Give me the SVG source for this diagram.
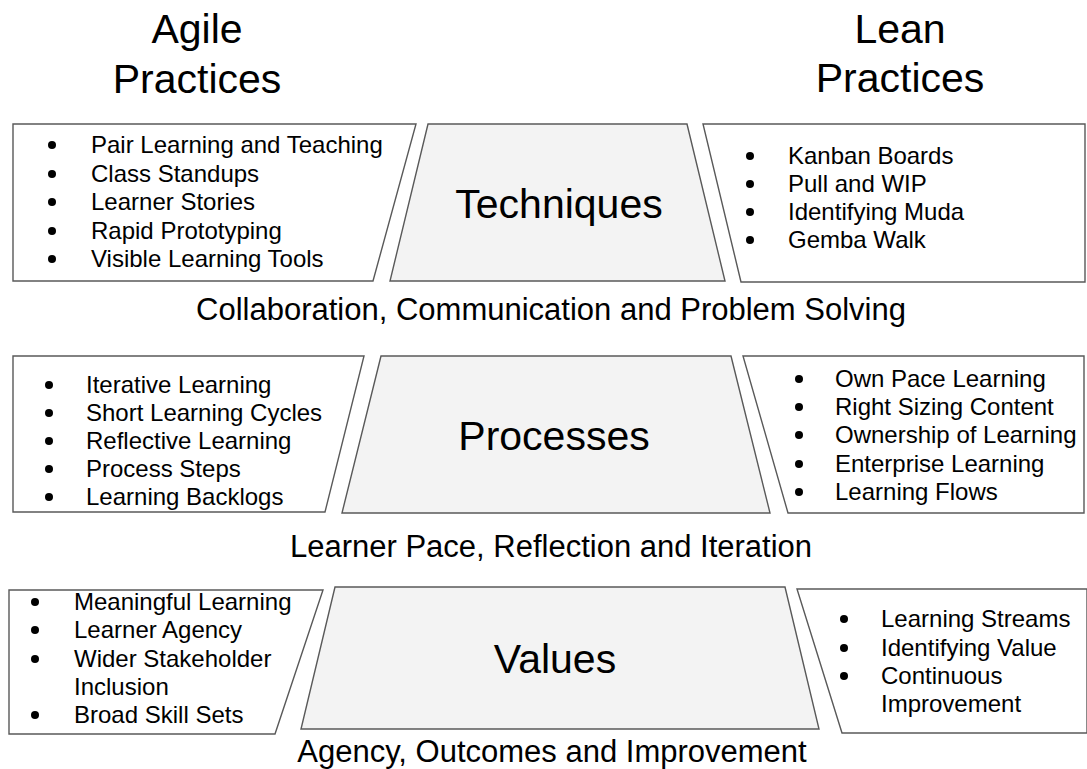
<svg xmlns="http://www.w3.org/2000/svg" width="1087" height="769" viewBox="0 0 1087 769">
<style>
text{font-family:"Liberation Sans",Arial,sans-serif;fill:#000}
.box{fill:#fff;stroke:#595959;stroke-width:1.4}
.core{fill:#f3f3f3;stroke:#595959;stroke-width:1.4}
.hdr{font-size:41px;text-anchor:middle}
.core-t{font-size:41px;text-anchor:middle}
.band{font-size:31px;text-anchor:middle}
.item{font-size:24px}
.dot{fill:#000}
</style>
<rect width="1087" height="769" fill="#fff"/>

<g id="agile-header">
<text class="hdr" x="197" y="43">Agile</text>
<text class="hdr" x="197" y="93">Practices</text>
</g>
<g id="lean-header">
<text class="hdr" x="900" y="43">Lean</text>
<text class="hdr" x="900" y="92">Practices</text>
</g>

<!-- Row 1 -->
<g id="agile-techniques">
<polygon class="box" points="13,124 416,124 373,281 13,281"/>
<circle class="dot" cx="52" cy="145" r="4"/><text class="item" x="91" y="153">Pair Learning and Teaching</text>
<circle class="dot" cx="52" cy="174" r="4"/><text class="item" x="91" y="182">Class Standups</text>
<circle class="dot" cx="52" cy="202" r="4"/><text class="item" x="91" y="210">Learner Stories</text>
<circle class="dot" cx="52" cy="231" r="4"/><text class="item" x="91" y="239">Rapid Prototyping</text>
<circle class="dot" cx="52" cy="259" r="4"/><text class="item" x="91" y="267">Visible Learning Tools</text>
</g>
<g id="techniques">
<polygon class="core" points="428,124 687,124 725,281 390,281"/>
<text class="core-t" x="559" y="218">Techniques</text>
</g>
<g id="lean-techniques">
<polygon class="box" points="703,124 1085,124 1085,282 741,282"/>
<circle class="dot" cx="750" cy="156" r="4"/><text class="item" x="788" y="164">Kanban Boards</text>
<circle class="dot" cx="750" cy="184" r="4"/><text class="item" x="788" y="192">Pull and WIP</text>
<circle class="dot" cx="750" cy="212" r="4"/><text class="item" x="788" y="220">Identifying Muda</text>
<circle class="dot" cx="750" cy="240" r="4"/><text class="item" x="788" y="248">Gemba Walk</text>
</g>
<g id="band-1">
<text class="band" x="551" y="320">Collaboration, Communication and Problem Solving</text>
</g>

<!-- Row 2 -->
<g id="agile-processes">
<polygon class="box" points="13,356 364,356 325,512 13,512"/>
<circle class="dot" cx="49" cy="385" r="4"/><text class="item" x="86" y="393">Iterative Learning</text>
<circle class="dot" cx="49" cy="413" r="4"/><text class="item" x="86" y="421">Short Learning Cycles</text>
<circle class="dot" cx="49" cy="441" r="4"/><text class="item" x="86" y="449">Reflective Learning</text>
<circle class="dot" cx="49" cy="469" r="4"/><text class="item" x="86" y="477">Process Steps</text>
<circle class="dot" cx="49" cy="497" r="4"/><text class="item" x="86" y="505">Learning Backlogs</text>
</g>
<g id="processes">
<polygon class="core" points="381,356 731,356 770,513 342,513"/>
<text class="core-t" x="554" y="450">Processes</text>
</g>
<g id="lean-processes">
<polygon class="box" points="743,356 1084,356 1084,513 788,513"/>
<circle class="dot" cx="799" cy="379" r="4"/><text class="item" x="835" y="387">Own Pace Learning</text>
<circle class="dot" cx="799" cy="407" r="4"/><text class="item" x="835" y="415">Right Sizing Content</text>
<circle class="dot" cx="799" cy="435" r="4"/><text class="item" x="835" y="443">Ownership of Learning</text>
<circle class="dot" cx="799" cy="464" r="4"/><text class="item" x="835" y="472">Enterprise Learning</text>
<circle class="dot" cx="799" cy="492" r="4"/><text class="item" x="835" y="500">Learning Flows</text>
</g>
<g id="band-2">
<text class="band" x="551" y="557">Learner Pace, Reflection and Iteration</text>
</g>

<!-- Row 3 -->
<g id="agile-values">
<polygon class="box" points="9,590 323,590 275,734 9,734"/>
<circle class="dot" cx="35" cy="602" r="4"/><text class="item" x="74" y="610">Meaningful Learning</text>
<circle class="dot" cx="35" cy="630" r="4"/><text class="item" x="74" y="638">Learner Agency</text>
<circle class="dot" cx="35" cy="659" r="4"/><text class="item" x="74" y="667">Wider Stakeholder</text>
<text class="item" x="74" y="695">Inclusion</text>
<circle class="dot" cx="35" cy="715" r="4"/><text class="item" x="74" y="723">Broad Skill Sets</text>
</g>
<g id="values">
<polygon class="core" points="335,587 785,587 819,729 301,729"/>
<text class="core-t" x="555" y="673">Values</text>
</g>
<g id="lean-values">
<polygon class="box" points="797,589 1087,589 1087,733 842,733"/>
<circle class="dot" cx="844" cy="619" r="4"/><text class="item" x="881" y="627">Learning Streams</text>
<circle class="dot" cx="844" cy="648" r="4"/><text class="item" x="881" y="656">Identifying Value</text>
<circle class="dot" cx="844" cy="676" r="4"/><text class="item" x="881" y="684">Continuous</text>
<text class="item" x="881" y="712">Improvement</text>
</g>
<g id="band-3">
<text class="band" x="552" y="762">Agency, Outcomes and Improvement</text>
</g>
</svg>
